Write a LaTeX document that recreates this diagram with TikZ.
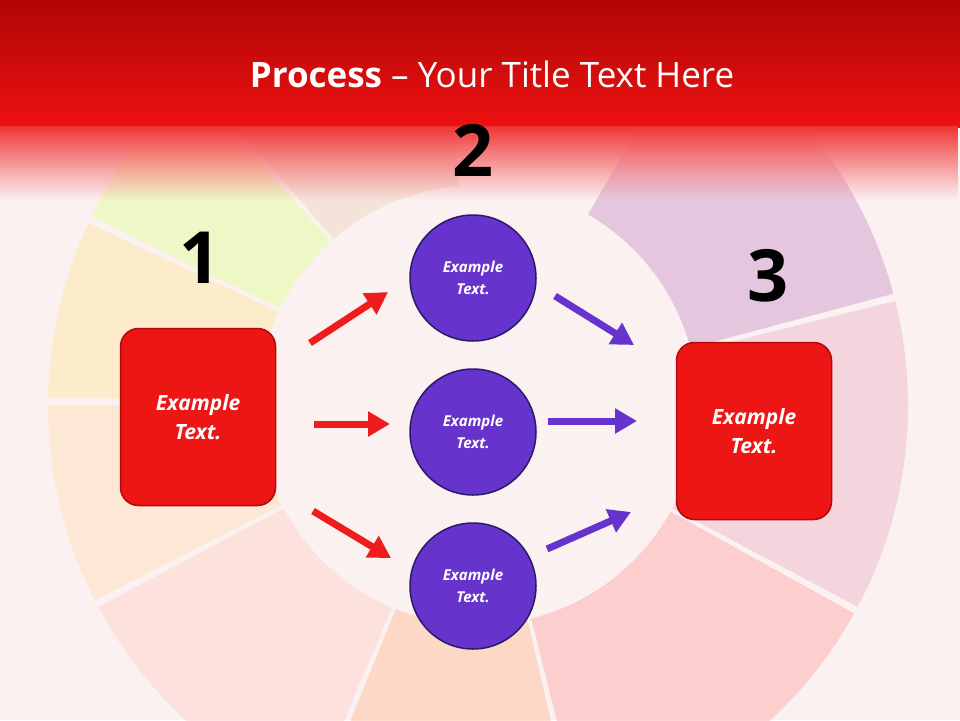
\documentclass[tikz,border=0pt]{standalone}
\usepackage{fontspec}
\setmainfont{Open Sans}
\usetikzlibrary{arrows.meta,calc,fadings}
\definecolor{bg}{HTML}{FCF1F1}
\definecolor{hred}{HTML}{EE1111}
\definecolor{hdark}{HTML}{B00606}
\definecolor{boxred}{HTML}{EE1515}
\definecolor{boxedge}{HTML}{B00A0A}
\definecolor{circ}{HTML}{6633CC}
\definecolor{circedge}{HTML}{2A1A6A}
\definecolor{arrred}{HTML}{EE1C1C}
\tikzset{
 boxnode/.style={draw=boxedge,line width=1.5pt,fill=boxred,rounded corners=18pt,minimum width=155pt,minimum height=177pt,text=white,font=\fontsize{21}{29}\selectfont\bfseries\itshape,align=center},
 circnode/.style={circle,draw=circedge,line width=1.5pt,fill=circ,minimum size=126pt,text=white,font=\fontsize{15}{22}\selectfont\bfseries\itshape,align=center},
 numnode/.style={font=\fontsize{72}{72}\selectfont\bfseries,text=black},
 arr/.style={line width=7pt,-{Triangle[length=22pt,width=24pt]}},
}
\newcommand{\seg}[3]{\fill[#3,opacity=0.55] (478,405) ++(#1:430) arc[start angle=#1,end angle=#2,radius=430] -- ($(478,405)+(#2:220)$) arc[start angle=#2,end angle=#1,radius=220] -- cycle;}
\begin{document}
\begin{tikzpicture}[x=1pt,y=-1pt]
\useasboundingbox (0,0) rectangle (960,720);
\fill[bg] (0,0) rectangle (960,720);
\seg{-60}{-15}{violet!35}
\seg{-14}{28}{purple!25}
\seg{29}{76}{red!30}
\seg{77}{112}{red!30!orange!35}
\seg{113}{152}{orange!35!red!20}
\seg{153}{180}{orange!25}
\seg{181}{205}{yellow!50!orange!30}
\seg{206}{228}{green!30!yellow!35}
\seg{229}{265}{brown!30}
% header
\fill[top color=hdark,bottom color=hred] (0,0) rectangle (960,127);
\fill[white,path fading=south] (0,126) rectangle (960,200);
\fill[hred,path fading=south,opacity=0.85] (0,126) rectangle (960,200);
\node[text=white,font=\fontsize{35}{38}\selectfont] (title) at (492,74) {\textbf{Process} -- Your Title Text Here};
% nodes
\node[boxnode] (b1) at (198,417) {Example\\Text.};
\node[boxnode] (b3) at (754,431) {Example\\Text.};
\node[circnode] (c1) at (473,278) {Example\\Text.};
\node[circnode] (c2) at (473,432) {Example\\Text.};
\node[circnode] (c3) at (473,586) {Example\\Text.};
\node[numnode] (n1) at (200,258) {1};
\node[numnode] (n2) at (473,150) {2};
\node[numnode] (n3) at (768,276) {3};
% arrows
\coordinate (r1s) at (310,343); \coordinate (r1e) at (388,292);
\coordinate (r2s) at (314,424); \coordinate (r2e) at (390,424);
\coordinate (r3s) at (313,511); \coordinate (r3e) at (391,558);
\coordinate (p1s) at (555,296); \coordinate (p1e) at (634,345);
\coordinate (p2s) at (548,421); \coordinate (p2e) at (637,421);
\coordinate (p3s) at (547,549); \coordinate (p3e) at (631,512);
\draw[arr,arrred] (r1s) -- (r1e);
\draw[arr,arrred] (r2s) -- (r2e);
\draw[arr,arrred] (r3s) -- (r3e);
\draw[arr,circ] (p1s) -- (p1e);
\draw[arr,circ] (p2s) -- (p2e);
\draw[arr,circ] (p3s) -- (p3e);
\end{tikzpicture}
\end{document}
